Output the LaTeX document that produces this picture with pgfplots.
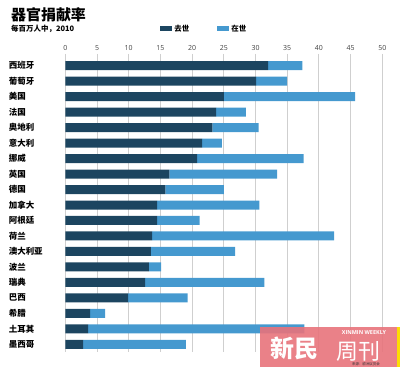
\documentclass[border=0pt]{standalone}
\usepackage{pgfplots}
\usepackage{pgfplotstable}
\pgfplotsset{compat=1.18}
\usepackage{fontspec}
\setmainfont{Open Sans}
\newfontfamily\cjk{Noto Sans CJK SC}
\definecolor{dead}{HTML}{1C4560}
\definecolor{live}{HTML}{4599CF}
\definecolor{wm}{HTML}{E8737B}
\definecolor{gridc}{HTML}{CFCFCF}

\pgfplotstableread{
idx dead live
0 32.0 5.4
1 30.1 4.9
2 25.0 20.7
3 23.8 4.7
4 23.2 7.3
5 21.6 3.1
6 20.8 16.8
7 16.4 17.0
8 15.8 9.2
9 14.5 16.1
10 14.5 6.7
11 13.7 28.7
12 13.5 13.3
13 13.2 1.9
14 12.6 18.8
15 9.9 9.4
16 3.9 2.4
17 3.6 34.1
18 2.8 16.2
}\organdata

\begin{document}
\begin{tikzpicture}
\path[use as bounding box] (0,0) rectangle (400bp,-367bp);
\begin{axis}[
  at={(65.3bp,-57.96bp)}, anchor=north west,
  scale only axis, width=317bp, height=294.1bp,
  xmin=0, xmax=50, ymin=-0.5, ymax=18.5,
  y dir=reverse,
  xbar stacked, bar width=9bp,
  axis line style={draw=none},
  xtick={0,5,...,50},
  xtick pos=upper, xticklabel pos=upper,
  tick align=outside, major tick length=4bp,
  x tick style={gridc, line width=0.8bp},
  xmajorgrids, grid style={gridc, line width=0.8bp},
  xticklabel style={font=\fontsize{7}{7}\selectfont, text=black!75},
  /pgf/number format/assume math mode=true,
  ytick={0,...,18},
  y tick style={draw=none},
  yticklabels={西班牙,葡萄牙,美国,法国,奥地利,意大利,挪威,英国,德国,加拿大,阿根廷,荷兰,澳大利亚,波兰,瑞典,巴西,希腊,土耳其,墨西哥},
  yticklabel style={font=\cjk\bfseries\fontsize{8.5}{8.5}\selectfont, anchor=west, xshift=-56bp},
  legend style={draw=none, fill=none, legend columns=2, at={(0.29,1.0986)}, anchor=west,
    font=\cjk\bfseries\fontsize{7.5}{7.5}\selectfont,
    /tikz/every even column/.append style={column sep=26bp}},
  legend image code/.code={\fill[#1] (0bp,-2.5bp) rectangle (12bp,2.5bp);},
]
\addplot[fill=dead, draw=none] table[x=dead, y=idx] {\organdata};
\addplot[fill=live, draw=none] table[x=live, y=idx] {\organdata};
\legend{去世,在世}
\end{axis}
\node[anchor=west, font=\cjk\bfseries\fontsize{15}{15}\selectfont, inner sep=0pt] at (11bp,-15bp) {器官捐献率};
\node[anchor=west, font=\cjk\bfseries\fontsize{7.5}{7.5}\selectfont, inner sep=0pt] at (11bp,-29bp) {每百万人中，2010};
% watermark
\fill[wm, opacity=0.9] (260bp,-327bp) rectangle (397bp,-367bp);
\fill[yellow!80!orange] (397bp,-327bp) rectangle (400bp,-367bp);
\node[white, anchor=west, inner sep=0pt, font=\cjk\bfseries\fontsize{24}{24}\selectfont] at (270bp,-348bp) {新民};
\node[white, anchor=west, inner sep=0pt, font=\cjk\fontsize{22}{22}\selectfont] at (336bp,-351bp) {周刊};
\node[white, inner sep=0pt, font=\bfseries\fontsize{5.5}{5.5}\selectfont] at (364bp,-332.5bp) {XINMIN WEEKLY};
\node[black!80, inner sep=0pt, font=\cjk\fontsize{3.5}{3.5}\selectfont] at (366bp,-364.5bp) {来源：欧洲议员会};
\end{tikzpicture}
\end{document}
